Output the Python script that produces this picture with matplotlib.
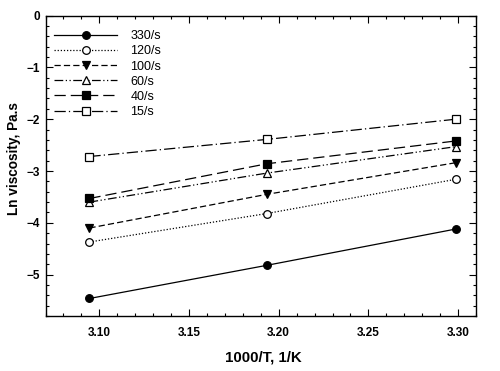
import matplotlib.pyplot as plt
from matplotlib.ticker import MultipleLocator

plt.rcParams['font.family'] = ['Liberation Sans', 'DejaVu Sans']

# 1000/T for 50, 40, 30 C
inv_t = [3.0945, 3.1934, 3.2987]

ln_330 = [-5.46, -4.82, -4.12]
ln_120 = [-4.37, -3.82, -3.16]
ln_100 = [-4.10, -3.45, -2.84]
ln_60 = [-3.60, -3.04, -2.53]
ln_40 = [-3.53, -2.86, -2.42]
ln_15 = [-2.72, -2.39, -2.00]

labels = ['330/s', '120/s', '100/s', '60/s', '40/s', '15/s']

fig = plt.figure(figsize=(5, 3.71), dpi=100)
ax = fig.add_axes([0.091, 0.148, 0.861, 0.81])

styles = [
    ('-', 'o', 'k'),
    ((0, (1, 1.5)), 'o', 'w'),
    ((0, (5, 2.5)), 'v', 'k'),
    ((0, (7, 2, 1, 2, 1, 2)), '^', 'w'),
    ((0, (9, 4)), 's', 'k'),
    ((0, (9, 2.5, 1, 2.5)), 's', 'w'),
]
series = [ln_330, ln_120, ln_100, ln_60, ln_40, ln_15]

for y, lab, (ls, mk, fc) in zip(series, labels, styles):
    ax.plot(inv_t, y, color='k', lw=0.9, linestyle=ls, marker=mk,
            markersize=5.5, markerfacecolor=fc, markeredgecolor='k',
            markeredgewidth=0.9, label=lab)

ax.set_xlim(3.07, 3.31)
ax.set_ylim(-5.8, 0)
ax.xaxis.set_major_locator(MultipleLocator(0.05))
ax.xaxis.set_minor_locator(MultipleLocator(0.01))
ax.yaxis.set_major_locator(MultipleLocator(1))
ax.yaxis.set_minor_locator(MultipleLocator(0.2))
ax.tick_params(which='both', direction='in', top=True, right=True, width=0.8)
ax.tick_params(which='major', length=5, labelsize=8.5)
ax.tick_params(axis='x', which='major', pad=8)
ax.tick_params(axis='y', which='major', pad=4)
ax.tick_params(which='minor', length=2.5)
ax.set_xticklabels(['%.2f' % v for v in ax.get_xticks()])
for t in ax.get_xticklabels() + ax.get_yticklabels():
    t.set_fontweight('bold')
for s in ax.spines.values():
    s.set_linewidth(1.0)

ax.set_xlabel('1000/T, 1/K', fontsize=10.8, fontweight='bold')
ax.set_ylabel('Ln viscosity, Pa.s', fontsize=9.8, fontweight='bold')
ax.xaxis.set_label_coords(0.505, -0.115)
ax.yaxis.set_label_coords(-0.057, 0.523)

ax.legend(loc='upper left', frameon=False, fontsize=9, handlelength=5.0,
          handletextpad=1.1, labelspacing=0.25, borderaxespad=0.3,
          bbox_to_anchor=(0.0, 0.98))

fig.savefig('out.png', dpi=100)
